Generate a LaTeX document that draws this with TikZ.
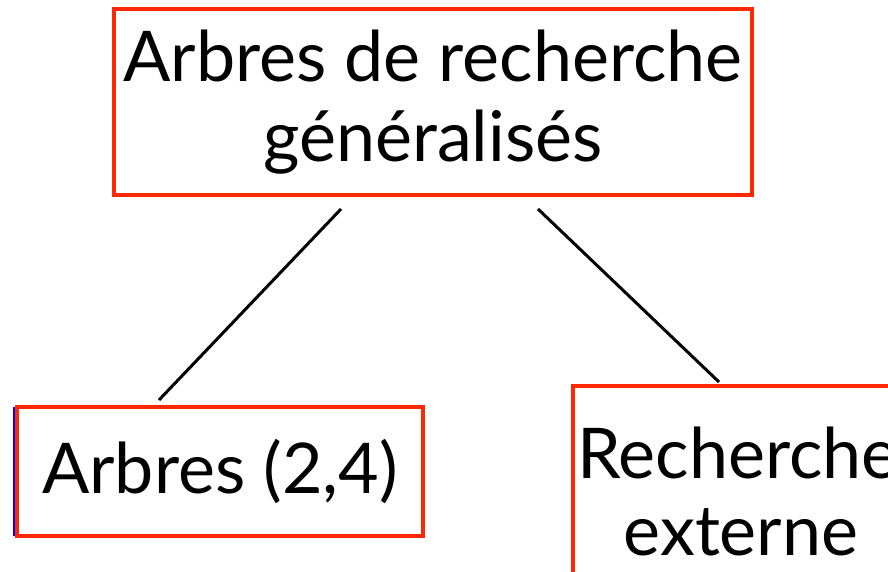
\documentclass[tikz,border=0pt]{standalone}
\usepackage{fontspec}
\setmainfont{Lato}
\usetikzlibrary{calc}
\definecolor{boxred}{RGB}{255,40,0}
\begin{document}
\begin{tikzpicture}[x=1pt,y=-1pt,
  box/.style={draw=boxred,line width=4pt,rectangle,inner sep=0pt,align=center},
  big/.style={font=\fontsize{70}{80}\selectfont},
  edge/.style={line width=3pt}]
\useasboundingbox (0,0) rectangle (888,571);
\fill[white] (0,0) rectangle (888,571);
\begin{scope}
\clip (0,0) rectangle (888,571);
\node[box,big,minimum width=638pt,minimum height=186pt] (top) at (433,102) {Arbres de recherche\\généralisés};
\node[box,big,minimum width=406pt,minimum height=129pt] (left) at (220,471.5) {Arbres (2,4)};
\node[box,font=\fontsize{70}{77}\selectfont,minimum width=330pt,minimum height=210pt] (right) at (738,491) {Recherche\\[0pt]\hspace*{6pt}externe};
\end{scope}
\draw[blue,line width=1.5pt] ([xshift=-1.25pt,yshift=2pt]left.south west) -- ([xshift=-1.25pt,yshift=-2pt]left.north west);
\draw[edge] ([xshift=229pt,yshift=-12pt]top.south west) -- ([xshift=144pt,yshift=5pt]left.north west);
\draw[edge] ([xshift=426pt,yshift=-12pt]top.south west) -- ([xshift=148pt,yshift=2pt]right.north west);
\end{tikzpicture}
\end{document}
